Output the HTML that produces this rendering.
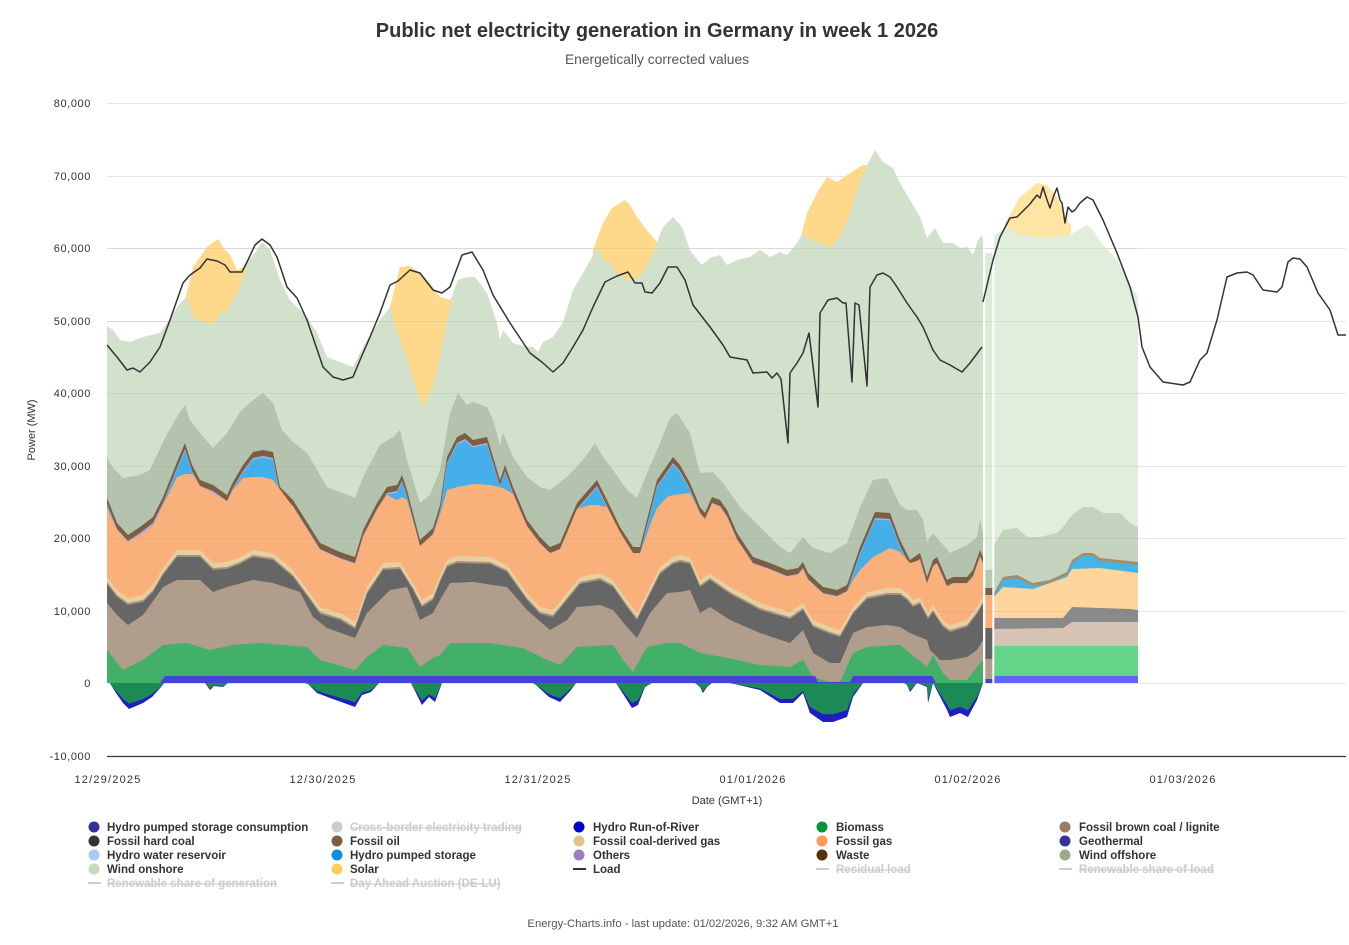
<!DOCTYPE html>
<html><head><meta charset="utf-8">
<style>
html,body{margin:0;padding:0;background:#fff;}
svg{display:block;}
text{font-family:"Liberation Sans",Arial,sans-serif;}
</style></head>
<body>
<svg width="1349" height="945" viewBox="0 0 1349 945" xmlns="http://www.w3.org/2000/svg">
<defs>
<clipPath id="pos"><rect x="107" y="0" width="876.5" height="683"/></clipPath>
<clipPath id="neg"><rect x="107" y="683" width="876.5" height="60"/></clipPath>
<polygon id="Bp" points="107,683 107,498 117,523 128,535 140,527 153,517 163,497 177,462 185,443 192,465 200,480 213,485 220,490 227,495 233,482 243,465 253,452 263,450 273,452 280,487 293,500 310,527 320,543 340,552 355,557 363,530 377,503 387,487 397,485 402,475 407,490 420,540 433,528 440,505 447,457 457,437 465,433 473,440 487,437 500,480 505,465 513,487 527,520 540,537 550,547 560,543 577,503 590,488 597,480 607,500 620,527 633,547 640,547 657,480 673,457 680,465 690,483 700,507 705,513 712,497 720,500 727,510 737,533 753,557 770,563 787,570 798,568 803,562 808,573 823,587 837,590 847,585 860,547 875,512 890,513 900,540 910,560 920,553 927,577 933,560 937,557 947,580 953,577 967,577 973,570 980,550 983,557 983,700 107,700"/>
<polygon id="Cp" points="107,683 107,577 117,590 128,598 143,595 153,585 163,568 177,550 200,550 213,563 227,562 240,557 253,550 273,553 293,570 310,593 320,607 340,613 355,622 367,587 383,563 400,562 413,583 422,600 433,593 440,575 447,560 457,556 490,557 507,565 527,593 540,607 553,610 567,593 580,577 600,573 613,580 627,600 637,613 647,593 660,567 673,557 680,555 690,557 700,580 710,573 730,587 760,603 790,612 803,603 813,620 830,627 840,630 853,607 867,592 887,588 900,588 907,593 913,600 920,597 928,612 933,605 943,620 950,625 967,620 977,607 983,597 983,700 107,700"/>
<polygon id="Np" points="107,683 108,680 116,693 123,703 129,709 143,703 152,697 161,687 164,683 205,683 210,690 214,686 223,687 228,683 305,683 308,684 317,693 330,698 344,703 355,707 362,695 371,692 379,683 411,683 422,705 429,697 435,702 442,683 533,683 536,685 549,697 560,702 571,690 576,683 616,683 625,697 632,708 638,705 645,687 652,683 695,683 700,687 703,693 707,687 712,683 730,683 760,690 780,703 793,703 803,693 810,713 823,722 833,722 847,717 853,697 863,683 897,683 900,680 907,685 910,692 917,683 927,687 928,703 933,683 947,710 950,717 960,713 968,717 977,700 983,683"/>
</defs>
<rect width="1349" height="945" fill="#fff"/>
<text x="657" y="37" text-anchor="middle" font-size="20" font-weight="bold" fill="#333">Public net electricity generation in Germany in week 1 2026</text>
<text x="657" y="64" text-anchor="middle" font-size="13.8" fill="#555">Energetically corrected values</text>

<!-- grid -->
<g stroke="#e6e6e6" stroke-width="1">
<line x1="107" y1="103.5" x2="1346" y2="103.5"/><line x1="107" y1="176.5" x2="1346" y2="176.5"/>
<line x1="107" y1="248.5" x2="1346" y2="248.5"/><line x1="107" y1="321.5" x2="1346" y2="321.5"/>
<line x1="107" y1="393.5" x2="1346" y2="393.5"/><line x1="107" y1="466.5" x2="1346" y2="466.5"/>
<line x1="107" y1="538.5" x2="1346" y2="538.5"/><line x1="107" y1="611.5" x2="1346" y2="611.5"/>
<line x1="107" y1="683.5" x2="1346" y2="683.5"/>
</g>

<!-- HISTORICAL positive -->
<g clip-path="url(#pos)">
<g fill="#fed98b">
<polygon points="185,683 185,300 193,267 207,247 218,239 223,247 230,255 237,270 243,267 248,263 248,683"/>
<polygon points="388,683 390,307 400,267 410,266 420,273 430,283 440,297 450,300 454,293 454,683"/>
<polygon points="592,683 593,250 603,223 612,208 625,200 630,205 637,217 645,228 657,242 661,243 661,683"/>
<polygon points="798,683 800,240 807,213 817,193 827,177 837,182 850,173 863,165 868,165 868,683"/>
</g>
<polygon fill="#d2e1cc" points="107,683 107,326 113,330 120,340 130,342 143,337 160,333 167,323 180,303 187,297 193,317 207,323 213,325 220,313 227,312 233,300 240,287 247,263 257,250 262,242 270,250 280,280 290,300 307,317 317,333 327,357 340,362 353,367 358,357 367,340 380,320 390,307 397,333 407,360 422,407 433,387 440,357 447,320 453,293 458,280 467,277 475,277 487,293 497,323 500,340 503,330 513,343 527,347 533,347 538,352 543,342 553,337 563,322 573,290 583,273 592,257 598,247 603,260 610,263 617,273 627,280 633,280 643,273 653,253 663,227 673,217 682,227 690,250 695,257 702,265 710,258 720,255 727,265 737,260 750,257 760,250 770,257 780,252 787,255 797,243 803,233 810,240 820,243 830,248 840,237 850,213 860,180 867,165 875,150 883,162 893,168 900,183 910,200 920,217 927,238 935,228 943,243 953,243 960,248 967,247 973,255 978,240 982,235 983,240 983,683"/>
<polygon fill="#b4c3ad" points="107,683 107,457 113,468 123,478 140,475 150,470 163,442 178,415 185,405 190,420 200,433 213,448 227,433 240,412 253,400 263,393 273,403 282,430 293,442 307,453 327,487 340,492 355,498 363,477 380,445 393,437 400,430 407,460 420,503 430,495 440,470 450,413 458,393 467,405 473,402 487,407 493,420 500,445 503,433 513,457 527,477 540,487 550,490 567,477 583,460 595,443 603,457 613,470 627,490 637,498 647,473 660,443 670,418 677,413 690,433 700,473 713,472 723,483 740,507 760,527 780,547 790,553 803,537 813,548 830,553 847,543 860,507 873,480 887,478 900,505 907,510 917,510 923,520 927,542 933,533 950,553 967,545 977,537 980,520 983,533 983,683"/>
<use href="#Bp" fill="#7a5f42"/>
<use href="#Bp" fill="#b9aede" transform="translate(0,6)"/>
<use href="#Bp" fill="#44afe8" transform="translate(0,7.5)"/>
<polygon fill="#f9b07a" points="107,683 107,508 117,530 128,542 140,535 153,525 163,505 177,477 185,474 192,474 200,486 213,493 220,497 227,502 233,490 243,478 253,477 263,477 273,480 282,492 293,507 310,534 320,550 340,559 355,564 363,537 377,510 387,495 397,500 402,497 407,500 420,546 433,535 440,515 447,490 457,487 473,484 490,485 503,488 510,492 513,494 527,526 540,544 550,553 560,550 577,509 590,505 597,505 607,507 620,532 633,553 640,554 650,525 657,508 667,497 673,495 690,493 700,513 705,519 712,504 720,507 727,517 737,540 753,564 770,570 787,577 798,575 803,569 808,580 823,594 837,597 847,592 853,580 860,570 873,557 890,548 900,552 910,563 920,560 927,584 933,567 937,564 947,587 953,584 967,584 973,577 980,557 983,564 983,683"/>
<use href="#Cp" fill="#e7cf9f"/>
<use href="#Cp" fill="#a29280" transform="translate(0,5)"/>
<use href="#Cp" fill="#666666" transform="translate(0,7)"/>
<polygon fill="#b09d8b" points="107,683 107,603 117,615 128,625 143,615 163,587 177,580 200,580 213,592 227,587 253,580 273,583 300,592 313,617 327,628 355,638 367,613 390,590 407,587 420,620 433,613 440,600 450,583 473,582 507,587 527,610 550,630 567,620 577,607 600,605 613,610 627,627 637,638 650,613 667,593 680,592 690,590 700,613 710,607 730,620 760,633 790,643 803,630 813,653 830,663 840,663 853,633 867,627 887,625 900,627 910,633 927,640 930,650 940,660 950,660 967,657 977,650 983,640 983,683"/>
<polygon fill="#43b06a" points="107,683 107,650 115,660 123,670 143,660 163,645 187,643 210,650 233,645 260,643 307,647 320,660 355,670 367,657 383,645 407,648 420,667 433,658 440,655 450,643 490,643 523,648 547,660 560,665 577,647 613,645 623,660 633,672 647,647 667,643 680,643 700,653 723,657 760,665 790,667 803,660 813,677 830,682 840,682 853,653 867,647 897,645 900,645 910,653 927,667 933,655 943,673 950,680 967,680 977,667 983,660 983,683"/>
<polygon fill="#4343d8" points="107,683 160,683 165,676 815,676 818,682 850,682 853,676 932,676 936,683 983,683"/>
</g>

<!-- HISTORICAL negative -->
<g clip-path="url(#neg)">
<use href="#Np" fill="#1e1ec2"/>
<use href="#Np" fill="#1b8a55" transform="translate(0,136.6) scale(1,0.8)"/>
</g>

<!-- transition strip 985-993 -->
<rect x="985" y="253" width="8" height="317" fill="#dcebd6"/>
<rect x="985" y="570" width="8" height="18" fill="#b8c8b2"/>
<rect x="985" y="588" width="8" height="7" fill="#7a5f42"/>
<rect x="985" y="595" width="8" height="33" fill="#f9b07a"/>
<rect x="985" y="628" width="8" height="31" fill="#666666"/>
<rect x="985" y="659" width="8" height="20" fill="#b09d8b"/>
<rect x="985" y="679" width="8" height="4" fill="#4343d8"/>

<!-- FORECAST -->
<g>
<polygon fill="#fee5a3" points="1003,683 1005,223 1020,197 1037,183 1047,185 1057,197 1067,220 1071,225 1071,683"/>
<polygon fill="#e0eedb" points="994,683 994,235 1000,232 1007,227 1020,235 1043,238 1070,235 1087,225 1093,230 1103,245 1117,260 1130,283 1138,297 1138,683"/>
<polygon fill="#c4d3be" points="994,683 994,545 1003,530 1017,528 1027,537 1040,537 1057,533 1063,527 1072,515 1083,507 1093,507 1103,513 1120,513 1130,523 1138,527 1138,683"/>
<polygon fill="#a78b6b" points="994,683 994,593 1003,577 1017,575 1033,583 1050,580 1067,572 1072,560 1083,553 1093,553 1100,558 1138,562 1138,683"/>
<polygon fill="#45b5e8" points="994,683 994,596 1003,580 1017,578 1033,586 1050,583 1067,575 1072,563 1083,556 1093,556 1100,561 1138,565 1138,683"/>
<polygon fill="#fed59c" points="994,683 994,597 1003,587 1033,589 1067,577 1072,569 1100,568 1138,573 1138,683"/>
<polygon fill="#8a8a8a" points="994,683 994,618 1063,618 1072,607 1130,609 1138,610 1138,683"/>
<polygon fill="#d6c3b3" points="994,683 994,629 1063,628 1072,622 1138,622 1138,683"/>
<rect x="994" y="646" width="144" height="30" fill="#64d488"/>
<rect x="994" y="676" width="144" height="7" fill="#6464f4"/>
</g>

<!-- white separators -->
<rect x="983.3" y="228" width="2" height="456" fill="#fff"/>
<rect x="992.3" y="250" width="2" height="434" fill="#fff"/>

<!-- faint grid over areas -->
<g stroke="rgba(110,110,110,0.10)" stroke-width="1">
<line x1="107" y1="248.5" x2="1138" y2="248.5"/><line x1="107" y1="321.5" x2="1138" y2="321.5"/>
<line x1="107" y1="393.5" x2="1138" y2="393.5"/><line x1="107" y1="466.5" x2="1138" y2="466.5"/>
<line x1="107" y1="538.5" x2="1138" y2="538.5"/><line x1="107" y1="611.5" x2="1138" y2="611.5"/>
</g>

<!-- load -->
<g fill="none" stroke="#333" stroke-width="1.5" stroke-linejoin="round">
<polyline points="107,345 117,357 127,370 133,368 140,372 150,362 160,347 170,320 183,283 190,275 200,268 207,259 217,261 225,265 230,272 242,272 248,260 255,245 262,239 270,245 277,257 287,287 297,298 307,320 323,367 333,377 343,380 353,377 360,360 370,337 380,313 390,285 398,281 410,270 420,273 433,290 442,293 450,287 462,255 472,252 483,270 493,295 510,323 530,353 543,363 553,372 563,363 573,347 583,330 593,307 605,282 617,276 628,272 635,283 642,283 645,292 652,293 660,283 668,267 677,267 685,280 693,305 710,327 723,345 730,357 747,360 753,373 767,372 772,378 777,373 781,379 788,443 790,373 797,363 803,353 809,333 818,407 820,313 828,300 837,298 843,303 846,303 852,382 855,303 859,305 867,386 870,287 877,275 883,273 890,277 897,287 907,303 917,317 923,327 933,350 940,360 950,365 962,372 970,363 982,347"/>
<polyline points="983,302 993,260 1000,237 1010,218 1017,217 1022,212 1027,207 1030,204 1033,200 1037,195 1040,198 1043,187 1047,200 1050,208 1054,195 1057,188 1060,200 1062,203 1065,223 1068,207 1072,212 1075,210 1080,203 1087,197 1093,200 1103,220 1117,253 1130,287 1138,317 1142,347 1150,367 1163,382 1183,385 1190,382 1200,360 1207,353 1217,320 1227,277 1237,273 1247,272 1253,275 1263,290 1277,292 1282,287 1288,262 1293,258 1300,259 1307,267 1318,293 1330,310 1338,335 1346,335"/>
</g>

<!-- x axis -->
<line x1="107" y1="756.5" x2="1346" y2="756.5" stroke="#333" stroke-width="1.2"/>

<!-- y labels -->
<g font-size="11" fill="#333" text-anchor="end" letter-spacing="0.6">
<text x="91" y="107">80,000</text><text x="91" y="180">70,000</text>
<text x="91" y="252">60,000</text><text x="91" y="325">50,000</text>
<text x="91" y="397">40,000</text><text x="91" y="470">30,000</text>
<text x="91" y="542">20,000</text><text x="91" y="615">10,000</text>
<text x="91" y="687">0</text><text x="91" y="760">-10,000</text>
</g>
<text transform="translate(35,430) rotate(-90)" text-anchor="middle" font-size="11" fill="#333">Power (MW)</text>

<!-- x labels -->
<g font-size="11" fill="#333" text-anchor="middle" letter-spacing="1.2">
<text x="108" y="783">12/29/2025</text><text x="323" y="783">12/30/2025</text>
<text x="538" y="783">12/31/2025</text><text x="753" y="783">01/01/2026</text>
<text x="968" y="783">01/02/2026</text><text x="1183" y="783">01/03/2026</text>
</g>
<text x="727" y="804" text-anchor="middle" font-size="11" fill="#333">Date (GMT+1)</text>

<!-- legend -->
<g font-size="11.5" font-weight="bold" fill="#333">
<circle cx="94" cy="827" r="5.5" fill="#333399"/><text x="107" y="831">Hydro pumped storage consumption</text>
<circle cx="94" cy="841" r="5.5" fill="#333333"/><text x="107" y="845">Fossil hard coal</text>
<circle cx="94" cy="855" r="5.5" fill="#aec8f8"/><text x="107" y="859">Hydro water reservoir</text>
<circle cx="94" cy="869" r="5.5" fill="#c2dcba"/><text x="107" y="873">Wind onshore</text>
<line x1="88" y1="883" x2="101" y2="883" stroke="#ccc" stroke-width="2"/><text x="107" y="887" fill="#ccc" text-decoration="line-through">Renewable share of generation</text>

<circle cx="337" cy="827" r="5.5" fill="#cccccc"/><text x="350" y="831" fill="#ccc" text-decoration="line-through">Cross-border electricity trading</text>
<circle cx="337" cy="841" r="5.5" fill="#7b5e45"/><text x="350" y="845">Fossil oil</text>
<circle cx="337" cy="855" r="5.5" fill="#0a92e0"/><text x="350" y="859">Hydro pumped storage</text>
<circle cx="337" cy="869" r="5.5" fill="#ffcc5c"/><text x="350" y="873">Solar</text>
<line x1="331" y1="883" x2="344" y2="883" stroke="#ccc" stroke-width="2"/><text x="350" y="887" fill="#ccc" text-decoration="line-through">Day Ahead Auction (DE-LU)</text>

<circle cx="579" cy="827" r="5.5" fill="#0000cc"/><text x="593" y="831">Hydro Run-of-River</text>
<circle cx="579" cy="841" r="5.5" fill="#e0c488"/><text x="593" y="845">Fossil coal-derived gas</text>
<circle cx="579" cy="855" r="5.5" fill="#9980b8"/><text x="593" y="859">Others</text>
<line x1="573" y1="869" x2="586" y2="869" stroke="#333" stroke-width="2"/><text x="593" y="873">Load</text>

<circle cx="822" cy="827" r="5.5" fill="#009933"/><text x="836" y="831">Biomass</text>
<circle cx="822" cy="841" r="5.5" fill="#ff9955"/><text x="836" y="845">Fossil gas</text>
<circle cx="822" cy="855" r="5.5" fill="#553300"/><text x="836" y="859">Waste</text>
<line x1="816" y1="869" x2="829" y2="869" stroke="#ccc" stroke-width="2"/><text x="836" y="873" fill="#ccc" text-decoration="line-through">Residual load</text>

<circle cx="1065" cy="827" r="5.5" fill="#9a7c62"/><text x="1079" y="831">Fossil brown coal / lignite</text>
<circle cx="1065" cy="841" r="5.5" fill="#333399"/><text x="1079" y="845">Geothermal</text>
<circle cx="1065" cy="855" r="5.5" fill="#99ab8f"/><text x="1079" y="859">Wind offshore</text>
<line x1="1059" y1="869" x2="1072" y2="869" stroke="#ccc" stroke-width="2"/><text x="1079" y="873" fill="#ccc" text-decoration="line-through">Renewable share of load</text>
</g>

<text x="683" y="927" text-anchor="middle" font-size="11.3" fill="#555">Energy-Charts.info - last update: 01/02/2026, 9:32 AM GMT+1</text>
</svg>
</body></html>
